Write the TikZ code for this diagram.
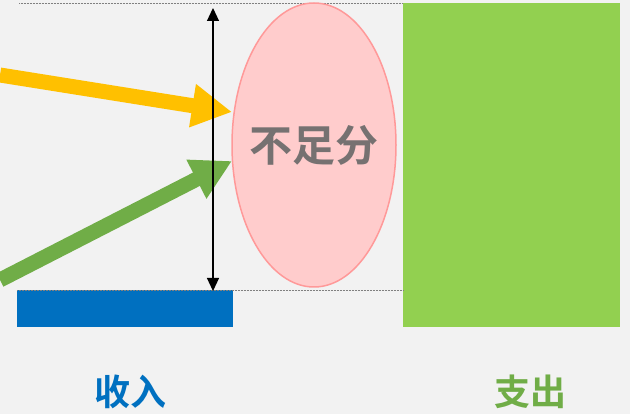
\documentclass[tikz,border=0pt]{standalone}
\usepackage{fontspec}
\newfontfamily\cjk{Noto Sans CJK SC}[BoldFont={Noto Sans CJK SC Bold}]
\usetikzlibrary{arrows.meta,shapes.geometric}
\definecolor{bg}{HTML}{F2F2F2}
\definecolor{inblue}{HTML}{0070C0}
\definecolor{outgreen}{HTML}{92D050}
\definecolor{arrgreen}{HTML}{70AD47}
\definecolor{arryellow}{HTML}{FFC000}
\definecolor{ellfill}{HTML}{FFCCCC}
\definecolor{elldraw}{HTML}{FF9999}
\definecolor{txtgray}{HTML}{767171}
\tikzset{
  guide/.style={gray, line width=0.5pt, densely dotted},
  bigarrow/.style={line width=15pt, -{Triangle[length=40pt,width=41pt]}},
  measure/.style={black, line width=1.2pt, {Triangle[length=13pt,width=12pt]}-{Triangle[length=13pt,width=12pt]}},
  label/.style={font=\cjk\bfseries\fontsize{36}{36}\selectfont, inner sep=0},
}
\begin{document}
\begin{tikzpicture}[x=1pt,y=-1pt]
\fill[bg] (0,0) rectangle (630,414);
\useasboundingbox (0,0) rectangle (630,414);
% bars
\fill[inblue] (17,290) rectangle (233,327);
\fill[outgreen] (403,3) rectangle (620,327);
\coordinate (blueTL) at (17,290);
\coordinate (greenBL) at (403,290);
\coordinate (topL) at (19,3);
\coordinate (greenTL) at (403,3);
% guides
\draw[guide] (topL) -- (greenTL);
\draw[guide] (blueTL) -- (greenBL);
% ellipse
\node[ellipse, fill=ellfill, draw=elldraw, line width=1.5pt, minimum width=164pt, minimum height=284pt, inner sep=0] (gap) at (314,145) {};
\node[text=txtgray, inner sep=0, font=\cjk\bfseries\fontsize{43}{43}\selectfont] (gaptxt) at (gap.center) {不足分};
% arrows
\coordinate (ys) at (0,75);
\coordinate (yt) at (232,112);
\coordinate (gs) at (0,280);
\coordinate (gt) at (232,161);
\draw[bigarrow, arryellow] (ys) -- (yt);
\draw[bigarrow, arrgreen] (gs) -- (gt);
% measure arrow
\coordinate (mt) at (213,8);
\coordinate (mb) at (213,291);
\draw[measure] (mt) -- (mb);
% labels
\node[label, text=inblue] (inc) at (130,392) {收入};
\node[label, text=arrgreen] (exp) at (530,392) {支出};
\end{tikzpicture}
\end{document}
